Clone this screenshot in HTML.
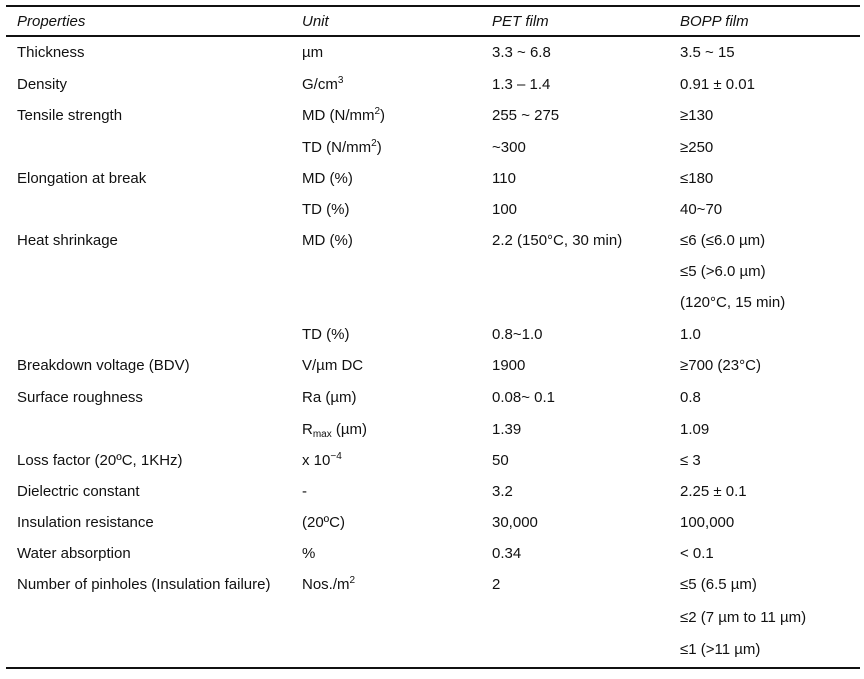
<!DOCTYPE html>
<html><head><meta charset="utf-8"><style>
body{margin:0;width:864px;height:679px;background:#fff;position:relative;font-family:"Liberation Sans",Arial,sans-serif;font-size:15px;color:#111;overflow:hidden}
.l{position:absolute;left:6px;width:854px;background:#111}
.t{position:absolute;line-height:18px;white-space:nowrap}
.h{font-style:italic}
sup{font-size:10px;vertical-align:6px;line-height:0}
sub{font-size:10px;vertical-align:-3px;line-height:0}
</style></head><body>
<div class="l" style="top:5px;height:2px"></div>
<div class="l" style="top:35px;height:1.5px"></div>
<div class="l" style="top:667px;height:2px"></div>
<div id="tbl"></div>
<script>
const rows=[
[22,"Properties","Unit","PET film","BOPP film",1],
[53,"Thickness","µm","3.3 ~ 6.8","3.5 ~ 15"],
[85,"Density","G/cm<sup>3</sup>","1.3 – 1.4","0.91 ± 0.01"],
[116,"Tensile strength","MD (N/mm<sup>2</sup>)","255 ~ 275","≥130"],
[148,"","TD (N/mm<sup>2</sup>)","~300","≥250"],
[179,"Elongation at break","MD (%)","110","≤180"],
[210,"","TD (%)","100","40~70"],
[241,"Heat shrinkage","MD (%)","2.2 (150°C, 30 min)","≤6 (≤6.0 µm)"],
[272,"","","","≤5 (>6.0 µm)"],
[303,"","","","(120°C, 15 min)"],
[335,"","TD (%)","0.8~1.0","1.0"],
[366,"Breakdown voltage (BDV)","V/µm DC","1900","≥700 (23°C)"],
[398,"Surface roughness","Ra (µm)","0.08~ 0.1","0.8"],
[430,"","R<sub>max</sub> (µm)","1.39","1.09"],
[461,"Loss factor (20ºC, 1KHz)","x 10<sup>−4</sup>","50","≤ 3"],
[492,"Dielectric constant","-","3.2","2.25 ± 0.1"],
[523,"Insulation resistance","(20ºC)","30,000","100,000"],
[554,"Water absorption","%","0.34","< 0.1"],
[585,"Number of pinholes (Insulation failure)","Nos./m<sup>2</sup>","2","≤5 (6.5 µm)"],
[618,"","","","≤2 (7 µm to 11 µm)"],
[650,"","","","≤1 (>11 µm)"]];
const xs=[17,302,492,680];
const names=["property","unit","pet-value","bopp-value"];
const tbl=document.getElementById('tbl');
rows.forEach((r,i)=>{for(let c=0;c<4;c++){if(!r[c+1])continue;
const d=document.createElement('div');
d.className='t'+(r[5]?' h':'');


d.style.left=xs[c]+'px';d.style.top=(r[0]-9)+'px';d.innerHTML=r[c+1];tbl.appendChild(d);}});
</script>
</body></html>
